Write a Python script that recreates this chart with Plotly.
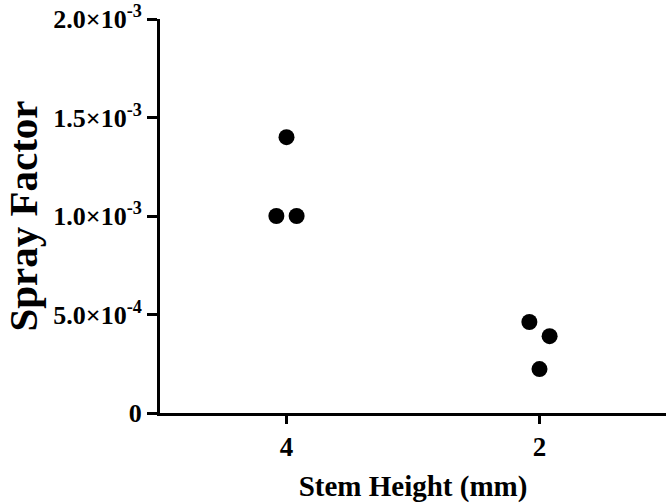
import plotly.graph_objects as go

categories = ["4", "2"]
group_4 = [1.0e-3, 1.40e-3, 1.0e-3]
group_2 = [4.62e-4, 3.9e-4, 2.23e-4]
jitter_4 = [-0.04, 0.0, 0.04]
jitter_2 = [-0.04, 0.04, 0.0]
y_tickvals = [0, 5e-4, 1e-3, 1.5e-3, 2e-3]
y_ticktext = ["0", "5.0×10<sup>-4</sup>", "1.0×10<sup>-3</sup>",
              "1.5×10<sup>-3</sup>", "2.0×10<sup>-3</sup>"]

xs = [0 + j for j in jitter_4] + [1 + j for j in jitter_2]
ys = group_4 + group_2

font = "Liberation Serif"
fig = go.Figure()
fig.add_trace(go.Scatter(
    x=xs, y=ys, mode="markers",
    marker=dict(symbol="circle", size=16, color="black",
                line=dict(width=0)),
    showlegend=False, cliponaxis=False,
))
fig.update_layout(
    width=666, height=504,
    margin=dict(l=160, r=0, t=19, b=91),
    plot_bgcolor="white", paper_bgcolor="white",
    font=dict(family=font, color="black"),
)
fig.update_xaxes(
    range=[-0.5, 1.5], tickvals=[0, 1], ticktext=categories,
    showgrid=False, zeroline=False, showline=True, linecolor="black", linewidth=3,
    ticks="outside", ticklen=8, tickwidth=3, tickcolor="black",
    tickfont=dict(family=font, size=27, weight="bold"),
    title=dict(text="Stem Height (mm)", font=dict(family=font, size=29, weight="bold"), standoff=15),
    automargin=False,
)
fig.update_yaxes(
    range=[0, 2e-3], tickvals=y_tickvals, ticktext=y_ticktext,
    showgrid=False, zeroline=False, showline=True, linecolor="black", linewidth=3,
    ticks="outside", ticklen=10, tickwidth=3, tickcolor="black",
    tickfont=dict(family=font, size=26, weight="bold"),
    title=dict(text="Spray Factor", font=dict(family=font, size=41, weight="bold"), standoff=6),
    automargin=False,
)
fig.write_html("out.html")
